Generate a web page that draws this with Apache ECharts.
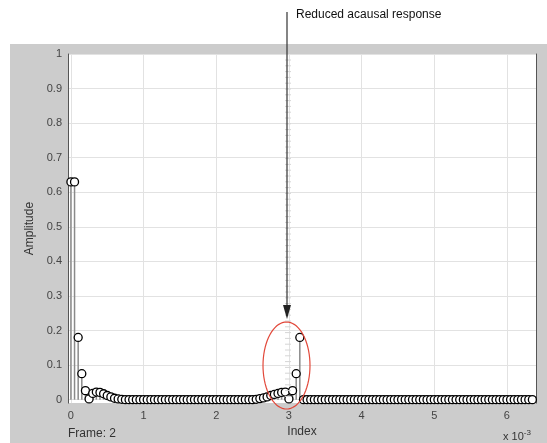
<!DOCTYPE html>
<html><head><meta charset="utf-8">
<script src="https://cdn.jsdelivr.net/npm/echarts@6/dist/echarts.min.js"></script>
<style>html,body{margin:0;padding:0;background:#fff}#c{width:547px;height:443px}</style>
</head><body><div id="c"></div>
<script>
// ---- data ----
const sampleStep = 0.05; // index spacing (x 10^-3)
const amplitude = [
  0.63, 0.63, 0.18, 0.075, 0.026, 0.002, 0.018, 0.022, 0.021, 0.017,
  0.012, 0.008, 0.004, 0.002, 0.001, 0, 0, 0, 0, 0,
  0, 0, 0, 0, 0, 0, 0, 0, 0, 0,
  0, 0, 0, 0, 0, 0, 0, 0, 0, 0,
  0, 0, 0, 0, 0, 0, 0, 0, 0, 0,
  0, 0.001, 0.003, 0.005, 0.008, 0.012, 0.015, 0.018, 0.021, 0.022,
  0.002, 0.026, 0.075, 0.18, 0, 0, 0, 0, 0, 0,
  0, 0, 0, 0, 0, 0, 0, 0, 0, 0,
  0, 0, 0, 0, 0, 0, 0, 0, 0, 0,
  0, 0, 0, 0, 0, 0, 0, 0, 0, 0,
  0, 0, 0, 0, 0, 0, 0, 0, 0, 0,
  0, 0, 0, 0, 0, 0, 0, 0, 0, 0,
  0, 0, 0, 0, 0, 0, 0, 0
];
const xTickValues = [0, 1, 2, 3, 4, 5, 6];
const yTickValues = [0, 0.1, 0.2, 0.3, 0.4, 0.5, 0.6, 0.7, 0.8, 0.9, 1];
const annotationText = 'Reduced acausal response';
const frameText = 'Frame: 2';

// ---- build ----
const points = amplitude.map((v, k) => [k * sampleStep, v]);
const chart = echarts.init(document.getElementById('c'), null, {renderer: 'canvas'});
const FONT = '"Liberation Sans", Arial, Helvetica, sans-serif';

// ellipse outline (annotation)
const ell = [];
for (let i = 0; i < 72; i++) {
  const t = i / 72 * Math.PI * 2;
  ell.push([286.5 + 23.5 * Math.cos(t), 365.5 + 43.5 * Math.sin(t)]);
}
// faint ruler-like tick marks along the annotation line
const rulerTicks = [];
for (let y = 60; y < 402; y += 5.8) {
  rulerTicks.push({type: 'line', z: 50, silent: true,
    shape: {x1: 285, y1: y, x2: 291, y2: y},
    style: {stroke: '#d6d6d6', lineWidth: 1}});
}

chart.setOption({
  animation: false,
  backgroundColor: '#cccccc',
  grid: {left: 68, right: 11, top: 54, bottom: 35, show: true, backgroundColor: '#ffffff', borderWidth: 0},
  xAxis: {
    type: 'value', min: -0.04, max: 6.4,
    name: 'Index', nameLocation: 'middle', nameGap: 20,
    nameTextStyle: {fontFamily: FONT, fontSize: 12, color: '#333'},
    axisLine: {show: false}, axisTick: {show: false, customValues: xTickValues},
    axisLabel: {customValues: xTickValues, fontFamily: FONT, fontSize: 11, color: '#444', margin: 7},
    splitLine: {show: true, lineStyle: {color: '#e2e2e2', width: 1}}
  },
  yAxis: [{
    type: 'value', min: -0.01, max: 1,
    name: 'Amplitude', nameLocation: 'middle', nameGap: 31, nameRotate: 90,
    nameTextStyle: {fontFamily: FONT, fontSize: 12, color: '#333'},
    axisLine: {show: true, onZero: false, lineStyle: {color: '#555', width: 1}},
    axisTick: {show: false, customValues: yTickValues},
    axisLabel: {customValues: yTickValues, fontFamily: FONT, fontSize: 11, color: '#444', margin: 6},
    splitLine: {show: true, lineStyle: {color: '#e2e2e2', width: 1}}
  }, {
    type: 'value', min: -0.01, max: 1, position: 'right',
    axisLine: {show: true, onZero: false, lineStyle: {color: '#555', width: 1}},
    axisTick: {show: false}, axisLabel: {show: false}, splitLine: {show: false}
  }],
  series: [{
    type: 'custom', z: 2, clip: true,
    data: points,
    renderItem: function (params, api) {
      const x = api.value(0), y = api.value(1);
      const p0 = api.coord([x, 0]), p1 = api.coord([x, y]);
      return {type: 'line', shape: {x1: p0[0], y1: p0[1], x2: p1[0], y2: p1[1]},
        style: {stroke: '#8a8a8a', lineWidth: 1.5}};
    }
  }, {
    type: 'scatter', z: 3, data: points, symbol: 'circle', symbolSize: 8,
    itemStyle: {color: '#ffffff', borderColor: '#000000', borderWidth: 1.3, opacity: 1}
  }],
  graphic: [
    {type: 'rect', z: 1, silent: true, shape: {x: 0, y: 0, width: 547, height: 44}, style: {fill: '#ffffff'}},
    {type: 'rect', z: 1, silent: true, shape: {x: 0, y: 0, width: 10, height: 443}, style: {fill: '#ffffff'}}
  ].concat(rulerTicks).concat([
    {type: 'polygon', z: 60, silent: true, shape: {points: ell}, style: {fill: 'none', stroke: '#e2483a', lineWidth: 1.2}},
    {type: 'line', z: 60, silent: true, shape: {x1: 287, y1: 12, x2: 287, y2: 308}, style: {stroke: '#333', lineWidth: 1.2}},
    {type: 'polygon', z: 60, silent: true, shape: {points: [[283, 305], [291, 305], [287, 319]]}, style: {fill: '#222'}},
    {type: 'text', z: 60, silent: true, x: 296, y: 15, style: {text: annotationText, fontFamily: FONT, fontSize: 12, fill: '#111', verticalAlign: 'middle'}},
    {type: 'text', z: 60, silent: true, x: 68, y: 434, style: {text: frameText, fontFamily: FONT, fontSize: 12, fill: '#333', verticalAlign: 'middle'}},
    {type: 'text', z: 60, silent: true, x: 503, y: 437, style: {
      text: 'x 10{s|-3}', fontFamily: FONT, fontSize: 11, fill: '#333', verticalAlign: 'middle',
      rich: {s: {fontFamily: FONT, fontSize: 8, fill: '#333', verticalAlign: 'top', padding: [0, 0, 8, 0]}}}}
  ])
});
</script>
</body></html>
